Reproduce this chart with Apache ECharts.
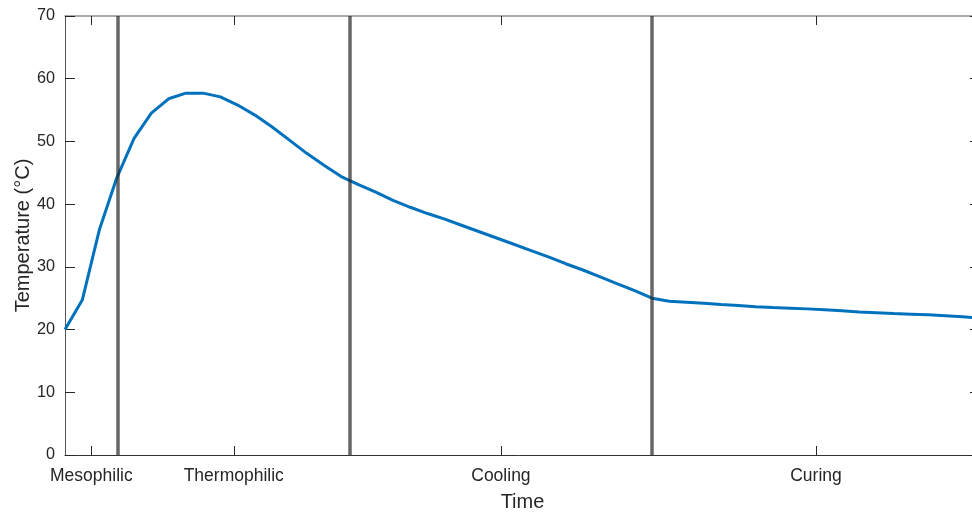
<!DOCTYPE html>
<html>
<head>
<meta charset="utf-8">
<title>Compost temperature by phase</title>
<script src="https://cdn.jsdelivr.net/npm/echarts@6/dist/echarts.min.js"></script>
<style>
  html, body { margin: 0; padding: 0; background: #fff; }
  #chart { width: 972px; height: 512px; }
</style>
</head>
<body>
<div id="chart"></div>
<script>
// Time runs in equal steps 0..53; one temperature reading per step (°C)
const timeMax = 53;
const temperature = [
  20.0, 24.7, 36.0, 44.2, 50.5, 54.5, 56.8, 57.7, 57.7, 57.1,
  55.8, 54.2, 52.3, 50.2, 48.1, 46.2, 44.4, 43.1, 41.9, 40.6,
  39.5, 38.5, 37.6, 36.6, 35.6, 34.6, 33.6, 32.6, 31.6, 30.5,
  29.5, 28.4, 27.3, 26.2, 25.0, 24.5, 24.35, 24.2, 24.0, 23.85,
  23.65, 23.5, 23.4, 23.3, 23.15, 23.0, 22.8, 22.7, 22.55, 22.45,
  22.35, 22.2, 22.05, 21.85
];

// Phase names and the time steps where one phase hands over to the next
const phaseNames = ['Mesophilic', 'Thermophilic', 'Cooling', 'Curing'];
const phaseBounds = [3.05, 16.5, 34];

// Y axis ticks
const yTicks = { min: 0, max: 70, step: 10 };

// Each phase label sits in the middle of its span
const edges = [0, ...phaseBounds, timeMax];
const phaseCenters = phaseNames.map((_, i) => (edges[i] + edges[i + 1]) / 2);

const textColor = '#262626';
const fontFamily = '"Liberation Sans", Arial, Helvetica, sans-serif';

const chart = echarts.init(document.getElementById('chart'));

chart.setOption({
  animation: false,
  textStyle: { fontFamily: fontFamily, color: textColor },
  grid: { left: 65, top: 16, right: -8, bottom: 57, containLabel: false, outerBoundsMode: 'none' },
  xAxis: [
    {
      type: 'value',
      position: 'bottom',
      min: 0,
      max: timeMax,
      name: 'Time',
      nameLocation: 'middle',
      nameGap: 37,
      nameMoveOverlap: false,
      nameTextStyle: { fontSize: 20, color: textColor, fontFamily: fontFamily },
      axisLine: { onZero: false, lineStyle: { color: '#333', width: 1 } },
      axisTick: {
        inside: true, length: 9,
        customValues: phaseCenters,
        lineStyle: { color: textColor, width: 1 }
      },
      axisLabel: {
        customValues: phaseCenters,
        margin: 12,
        fontSize: 17.5,
        color: textColor,
        fontFamily: fontFamily,
        formatter: function (v) {
          let best = 0;
          phaseCenters.forEach((c, i) => {
            if (Math.abs(c - v) < Math.abs(phaseCenters[best] - v)) best = i;
          });
          return phaseNames[best];
        }
      },
      splitLine: { show: false }
    },
    {
      type: 'value',
      position: 'top',
      min: 0,
      max: timeMax,
      axisLine: { onZero: false, lineStyle: { color: '#8f8f8f', width: 1.5 } },
      axisTick: {
        inside: true, length: 9,
        customValues: phaseCenters,
        lineStyle: { color: textColor, width: 1 }
      },
      axisLabel: { show: false },
      splitLine: { show: false }
    }
  ],
  yAxis: [
    {
      type: 'value',
      position: 'left',
      min: yTicks.min,
      max: yTicks.max,
      interval: yTicks.step,
      name: 'Temperature (°C)',
      nameLocation: 'middle',
      nameGap: 32,
      nameRotate: 90,
      nameMoveOverlap: false,
      nameTextStyle: { fontSize: 20, color: textColor, fontFamily: fontFamily },
      axisLine: { show: true, onZero: false, lineStyle: { color: '#555', width: 1 } },
      axisTick: { show: true, inside: true, length: 10, lineStyle: { color: textColor, width: 1 } },
      axisLabel: { margin: 10, fontSize: 16.2, color: textColor, fontFamily: fontFamily },
      splitLine: { show: false }
    },
    {
      type: 'value',
      position: 'right',
      min: yTicks.min,
      max: yTicks.max,
      interval: yTicks.step,
      axisLine: { show: true, onZero: false, lineStyle: { color: '#555', width: 1 } },
      axisTick: { show: true, inside: true, length: 10, lineStyle: { color: textColor, width: 1 } },
      axisLabel: { show: false },
      splitLine: { show: false }
    }
  ],
  series: [
    {
      name: 'Temperature',
      type: 'line',
      xAxisIndex: 0,
      yAxisIndex: 0,
      data: temperature.map((t, i) => [i, t]),
      showSymbol: false,
      smooth: false,
      lineStyle: { color: '#0072BD', width: 3 },
      z: 2
    },
    {
      name: 'Phase boundaries',
      type: 'line',
      xAxisIndex: 0,
      yAxisIndex: 0,
      data: [],
      markLine: {
        silent: true,
        symbol: ['none', 'none'],
        label: { show: false },
        lineStyle: { color: 'rgba(38,38,38,0.7)', width: 3.5, type: 'solid' },
        data: phaseBounds.map(b => ({ xAxis: b }))
      },
      z: 5
    }
  ]
});
</script>
</body>
</html>
